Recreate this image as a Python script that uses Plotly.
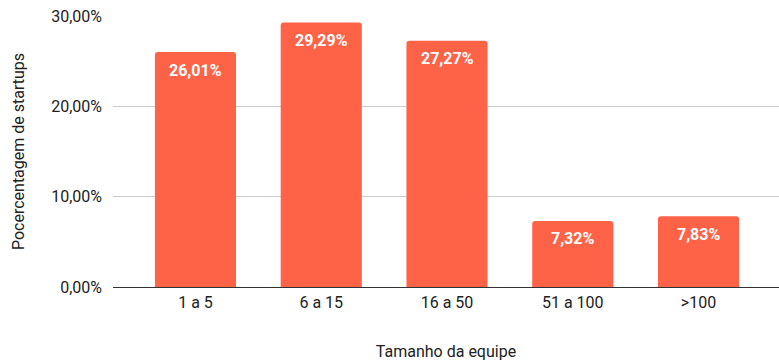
import plotly.graph_objects as go

categories = ["1 a 5", "6 a 15", "16 a 50", "51 a 100", ">100"]
values = [26.01, 29.29, 27.27, 7.32, 7.83]
y_ticks = [0, 10, 20, 30]

bar_color = "#ff6347"
font_family = "Roboto, Arial, sans-serif"
text_color = "#222222"

positions = list(range(len(categories)))

fig = go.Figure()
fig.add_trace(go.Bar(
    x=positions,
    y=values,
    width=0.645,
    marker=dict(color=bar_color, line=dict(width=0), cornerradius=3),
    hoverinfo="skip",
))

# value labels in white, just under the top of each bar
for xi, v in zip(positions, values):
    fig.add_annotation(
        x=xi, y=v, yshift=-18,
        text=f"<b>{v:.2f}%</b>".replace(".", ","),
        showarrow=False, yanchor="middle", xanchor="center",
        font=dict(family=font_family, size=16, color="white"),
    )

fig.update_layout(
    width=779, height=361,
    margin=dict(l=113, r=0, t=16, b=74),
    paper_bgcolor="white", plot_bgcolor="white",
    separators=",.",
    showlegend=False,
    font=dict(family=font_family, size=16, color=text_color),
    xaxis=dict(
        range=[-0.656, 4.64],
        tickmode="array", tickvals=positions, ticktext=categories,
        showgrid=False, zeroline=False, showline=False,
        ticks="", ticklabelstandoff=4,
        tickfont=dict(size=16, color=text_color),
        title=dict(text="Tamanho da equipe", font=dict(size=16, color=text_color), standoff=34),
    ),
    yaxis=dict(
        range=[0, 30],
        tickmode="array", tickvals=y_ticks,
        ticktext=[f"{t:.2f}%".replace(".", ",") for t in y_ticks],
        showgrid=True, gridcolor="#cccccc", gridwidth=1,
        zeroline=True, zerolinecolor="#333333", zerolinewidth=1,
        showline=False, ticks="", ticklabelstandoff=10,
        tickfont=dict(size=16, color=text_color),
        title=dict(text="Pocercentagem de startups", font=dict(size=16, color=text_color), standoff=22),
    ),
)

fig.write_html("out.html")
